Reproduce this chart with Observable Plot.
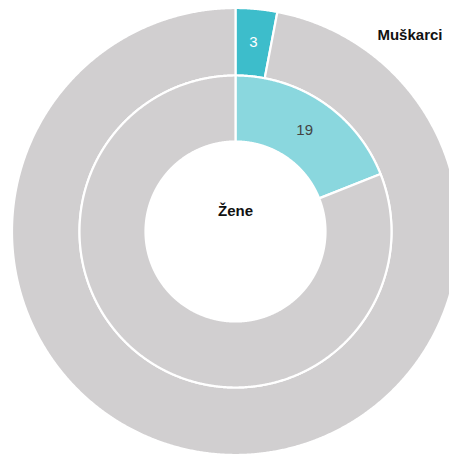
<!DOCTYPE html>
<html>
<head>
<meta charset="utf-8">
<script src="https://cdn.jsdelivr.net/npm/d3@7"></script>
<script src="https://cdn.jsdelivr.net/npm/@observablehq/plot@0.6"></script>
<style>
  html, body { margin: 0; padding: 0; background: #fff; }
  #chart { width: 449px; height: 455px; }
</style>
</head>
<body>
<div id="chart"></div>
<script>
// Data
const rings = ["Muškarci", "Žene"];
const highlightValues = [3, 19];          // percent
const restValues = [97, 81];
const highlightColors = ["#3dbdcb", "#8ad7de"];
const restColor = "#d1cfd0";
const labelColors = ["#ffffff", "#444444"];

// Layout (pixels)
const W = 449, H = 455, CX = 235, CY = 231;
const radii = [[156, 223.5], [90, 156]];

const polys = [];
const labels = [];
rings.forEach((ring, i) => {
  const vals = [highlightValues[i], restValues[i]];
  const cols = [highlightColors[i], restColor];
  const pie = d3.pie().sort(null)(vals);
  const [r0, r1] = radii[i];
  pie.forEach((a, j) => {
    const id = ring + "-" + j;
    const n = Math.max(2, Math.ceil((a.endAngle - a.startAngle) / 0.005));
    for (let k = 0; k <= n; k++) {
      const t = a.startAngle + (a.endAngle - a.startAngle) * k / n;
      polys.push({id, fill: cols[j], x: r1 * Math.sin(t), y: r1 * Math.cos(t)});
    }
    for (let k = n; k >= 0; k--) {
      const t = a.startAngle + (a.endAngle - a.startAngle) * k / n;
      polys.push({id, fill: cols[j], x: r0 * Math.sin(t), y: r0 * Math.cos(t)});
    }
    if (j === 0) {
      const m = (a.startAngle + a.endAngle) / 2, rm = (r0 + r1) / 2;
      labels.push({x: rm * Math.sin(m), y: rm * Math.cos(m), text: String(vals[0]), color: labelColors[i]});
    }
  });
});

const chart = Plot.plot({
  width: W, height: H,
  margin: 0,
  x: {domain: [-CX, W - CX], axis: null},
  y: {domain: [CY - H, CY], axis: null},
  color: {type: "identity"},
  style: {fontFamily: "Liberation Sans, Arial, sans-serif", background: "#fff"},
  marks: [
    Plot.line(polys, {x: "x", y: "y", z: "id", fill: "fill", stroke: "#fff", strokeWidth: 2.2, curve: "linear-closed"}),
    Plot.text(labels, {x: "x", y: "y", text: "text", fill: "color", fontSize: 15}),
    Plot.text([rings[1]], {x: [0], y: [20], text: d => d, fontSize: 15, fill: "#111", fontWeight: 600}),
    Plot.text([rings[0]], {frameAnchor: "top-right", dx: -7, dy: 29, text: d => d, textAnchor: "end", fontSize: 15, fill: "#111", fontWeight: 600})
  ]
});
document.getElementById("chart").appendChild(chart);
</script>
</body>
</html>
